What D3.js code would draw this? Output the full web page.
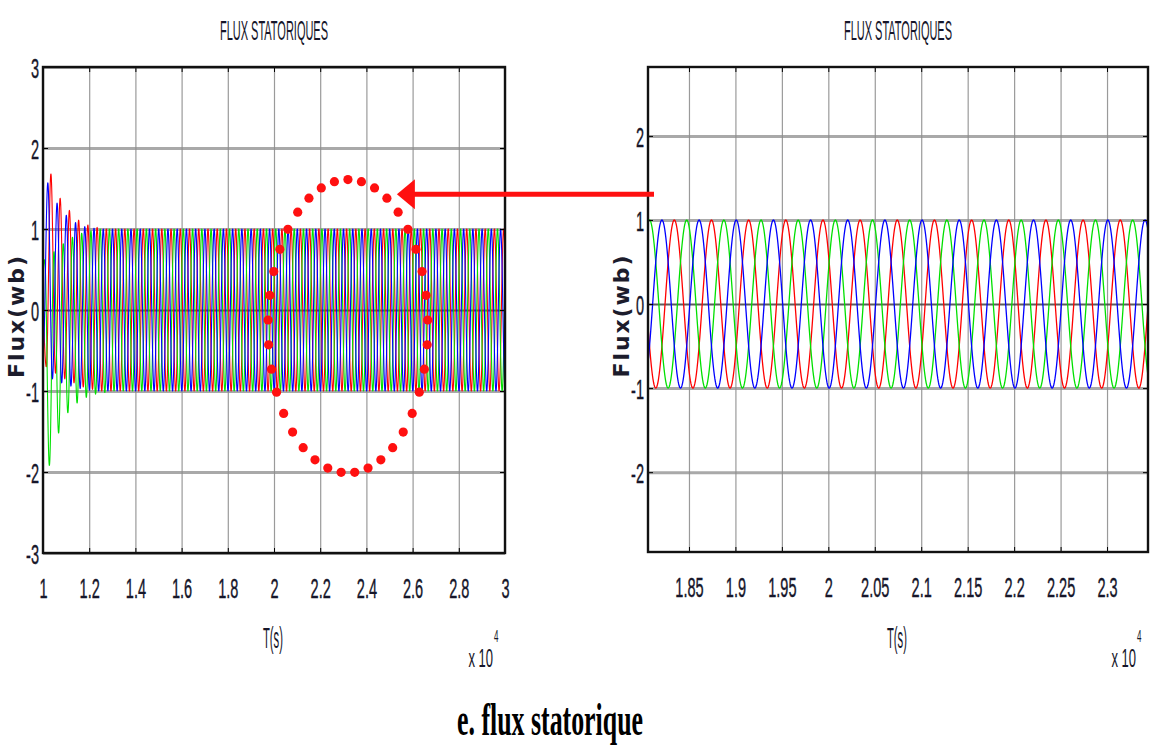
<!DOCTYPE html>
<html lang="fr">
<head>
<meta charset="UTF-8">
<title>Flux statoriques</title>
<style>
  body { margin: 0; background: #fff; }
  svg { display: block; background: #fff; }
  .tick text { font-family: "Liberation Sans Narrow", "Arial Narrow", "Liberation Sans", sans-serif; fill: #16162a; }
  .narrow { font-family: "Liberation Sans Narrow", "Arial Narrow", "Liberation Sans", sans-serif; fill: #16162a; }
</style>
</head>
<body>
<svg id="chart"></svg>
<script src="https://cdnjs.cloudflare.com/ajax/libs/d3/7.8.5/d3.min.js"></script>
<script>
// ---- values (time in units of 10^4 s) ----
var leftTimeTicks = [1, 1.2, 1.4, 1.6, 1.8, 2, 2.2, 2.4, 2.6, 2.8, 3];
var leftTimeLabels = ["1", "1.2", "1.4", "1.6", "1.8", "2", "2.2", "2.4", "2.6", "2.8", "3"];
var rightTimeTicks = [1.85, 1.9, 1.95, 2, 2.05, 2.1, 2.15, 2.2, 2.25, 2.3];
var rightTimeLabels = ["1.85", "1.9", "1.95", "2", "2.05", "2.1", "2.15", "2.2", "2.25", "2.3"];
var leftFluxTicks = [3, 2, 1, 0, -1, -2, -3];
var rightFluxTicks = [2, 1, 0, -1, -2];
var leftTimeRange = [1, 3];
var rightTimeRange = [1.8059, 2.3441];
var leftFluxRange = [-3, 3];
var rightFluxRange = [-2.95, 2.82];

var period = 0.04;          // one electrical period
var bluePeakAt = 1.8209;    // a blue crest seen in the zoomed plot
var steadyAmplitude = 1.0;

// crest / trough heights of each cycle during the start-up transient
var redPeaks = [0.2, 1.68, 1.38, 1.23, 1.11, 1.05, 1.02];
var redTroughs = [-0.7, -0.78, -0.85, -0.9, -0.95, -0.98, -1.0];
var bluePeaks = [0.3, 1.57, 1.32, 1.17, 1.08, 1.03, 1.01];
var blueTroughs = [-0.5, -0.85, -0.9, -0.94, -0.97, -0.99, -1.0];
var greenPeaks = [0.3, 0.62, 0.72, 0.82, 0.9, 0.95, 0.98];
var greenTroughs = [0.0, -1.92, -1.52, -1.27, -1.15, -1.08, -1.04, -1.02];

var series = [
  { name: "a", color: "#ff0000", shift: period / 3, peaks: redPeaks, troughs: redTroughs },
  { name: "b", color: "#00e000", shift: -period / 3, peaks: greenPeaks, troughs: greenTroughs },
  { name: "c", color: "#0000ff", shift: 0, peaks: bluePeaks, troughs: blueTroughs }
];

var width = 1152, height = 749;
var svg = d3.select("#chart").attr("width", width).attr("height", height);

var panels = [
  { box: { left: 43, right: 505, top: 67, bottom: 553 }, xDom: leftTimeRange, yDom: leftFluxRange,
    xTicks: leftTimeTicks, xLabels: leftTimeLabels, yTicks: leftFluxTicks, lw: 1.1, step: 0.0008 },
  { box: { left: 648, right: 1148, top: 67, bottom: 552 }, xDom: rightTimeRange, yDom: rightFluxRange,
    xTicks: rightTimeTicks, xLabels: rightTimeLabels, yTicks: rightFluxTicks, lw: 1.3, step: 0.0006 }
];

function level(arr, k, fallback) {
  if (k < 0) k = 0;
  return k < arr.length ? arr[k] : fallback;
}

function flux(s, t) {
  var first = bluePeakAt + s.shift;
  first = first - Math.ceil((first - leftTimeRange[0]) / period) * period;
  var ph = (t - first) / period;
  var k = Math.floor(ph), f = ph - k;
  var a = level(s.peaks, k, steadyAmplitude);
  var b = level(s.troughs, k, -steadyAmplitude);
  if (f < 0.5) return (a + b) / 2 + (a - b) / 2 * Math.cos(2 * Math.PI * f);
  var c = level(s.peaks, k + 1, steadyAmplitude);
  return (b + c) / 2 + (c - b) / 2 * Math.cos(2 * Math.PI * f);
}

panels.forEach(function(p, pi) {
  var b = p.box, w = b.right - b.left, h = b.bottom - b.top;
  var x = d3.scaleLinear().domain(p.xDom).range([b.left, b.right]);
  var y = d3.scaleLinear().domain(p.yDom).range([b.bottom, b.top]);
  p.x = x; p.y = y;

  var clipId = "clip" + pi;
  svg.append("clipPath").attr("id", clipId).append("rect")
    .attr("x", b.left).attr("y", b.top).attr("width", w).attr("height", h);

  // vertical grid
  svg.append("g").attr("transform", "translate(0," + b.bottom + ")")
    .call(d3.axisBottom(x).tickValues(p.xTicks).tickSize(h).tickFormat(""))
    .call(function(g) {
      g.select(".domain").remove();
      g.selectAll(".tick line").attr("y2", -h).attr("stroke", "#9a9a9a").attr("stroke-width", 1.2);
    });

  // horizontal grid
  svg.append("g").attr("transform", "translate(" + b.left + ",0)")
    .call(d3.axisRight(y).tickValues(p.yTicks).tickSize(w).tickFormat(""))
    .call(function(g) {
      g.select(".domain").remove();
      g.selectAll(".tick line")
        .attr("stroke", function(d) { return d === 0 ? "#4a4a4a" : "#8c8c8c"; })
        .attr("stroke-width", function(d) { return d === 0 ? 2 : 3; })
        .attr("stroke-opacity", function(d) { return d === 0 ? 0.9 : 0.75; });
    });

  // waveforms
  var times = d3.range(p.xDom[0], p.xDom[1] + p.step, p.step);
  var line = d3.line().x(function(d) { return x(d[0]); }).y(function(d) { return y(d[1]); });
  var gl = svg.append("g").attr("clip-path", "url(#" + clipId + ")");
  series.forEach(function(s) {
    var pts = times.map(function(t) { return [t, flux(s, t)]; });
    gl.append("path").datum(pts)
      .attr("d", line)
      .attr("fill", "none")
      .attr("stroke", s.color)
      .attr("stroke-width", p.lw)
      .attr("stroke-linejoin", "round");
  });

  // inner tick marks on all four sides
  svg.append("g").attr("transform", "translate(0," + b.bottom + ")")
    .call(d3.axisTop(x).tickValues(p.xTicks).tickSize(5).tickFormat(""))
    .call(function(g) { g.select(".domain").remove(); g.selectAll("line").attr("stroke", "#000"); });
  svg.append("g").attr("transform", "translate(0," + b.top + ")")
    .call(d3.axisBottom(x).tickValues(p.xTicks).tickSize(5).tickFormat(""))
    .call(function(g) { g.select(".domain").remove(); g.selectAll("line").attr("stroke", "#000"); });
  svg.append("g").attr("transform", "translate(" + b.left + ",0)")
    .call(d3.axisRight(y).tickValues(p.yTicks).tickSize(5).tickFormat(""))
    .call(function(g) { g.select(".domain").remove(); g.selectAll("line").attr("stroke", "#000"); });
  svg.append("g").attr("transform", "translate(" + b.right + ",0)")
    .call(d3.axisLeft(y).tickValues(p.yTicks).tickSize(5).tickFormat(""))
    .call(function(g) { g.select(".domain").remove(); g.selectAll("line").attr("stroke", "#000"); });

  // frame
  svg.append("rect").attr("x", b.left).attr("y", b.top).attr("width", w).attr("height", h)
    .attr("fill", "none").attr("stroke", "#111").attr("stroke-width", 2.4);

  // x tick labels
  svg.append("g").attr("transform", "translate(0," + b.bottom + ")")
    .call(d3.axisBottom(x).tickValues(p.xTicks).tickSize(0)
      .tickFormat(function(d, i) { return p.xLabels[i]; }))
    .call(function(g) {
      g.select(".domain").remove();
      g.selectAll(".tick text").attr("y", 45).attr("dy", 0)
        .attr("font-size", 28).attr("stroke", "#16162a").attr("stroke-width", 0.4)
        .attr("transform", "scale(0.52,1)");
    });

  // y tick labels
  svg.append("g").attr("transform", "translate(" + b.left + ",0)")
    .call(d3.axisLeft(y).tickValues(p.yTicks).tickSize(0).tickFormat(function(d) { return String(d); }))
    .call(function(g) {
      g.select(".domain").remove();
      g.selectAll(".tick text").attr("x", -4 / 0.52).attr("dy", "0.36em")
        .attr("font-size", 28).attr("stroke", "#16162a").attr("stroke-width", 0.4)
        .attr("transform", "scale(0.52,1)");
    });

  var cx = (b.left + b.right) / 2;
  // title
  svg.append("text").attr("class", "narrow")
    .attr("x", cx).attr("y", 40).attr("text-anchor", "middle")
    .attr("font-size", 28).attr("textLength", 108).attr("lengthAdjust", "spacingAndGlyphs")
    .text("FLUX STATORIQUES");
  // x label
  svg.append("text").attr("class", "narrow")
    .attr("x", cx - 1).attr("y", 648).attr("text-anchor", "middle")
    .attr("font-size", 30).attr("textLength", 20).attr("lengthAdjust", "spacingAndGlyphs")
    .text("T(s)");
  // exponent (narrowed with a horizontal scale)
  var ex = svg.append("g").attr("transform", "translate(" + (b.right - 12) + ",0) scale(0.5,1)");
  ex.append("text").attr("class", "narrow")
    .attr("x", 0).attr("y", 667).attr("text-anchor", "end")
    .attr("font-size", 26)
    .text("x 10");
  ex.append("text").attr("class", "narrow")
    .attr("x", 2).attr("y", 642).attr("text-anchor", "start")
    .attr("font-size", 16)
    .text("4");
  // y label
  var ly = (b.top + b.bottom) / 2 + 7;
  svg.append("text")
    .attr("transform", "translate(" + (b.left - 19) + "," + ly + ") rotate(-90)")
    .attr("text-anchor", "middle")
    .attr("font-family", "DejaVu Sans, sans-serif").attr("font-weight", "bold")
    .attr("font-size", 22).attr("fill", "#1c1c2c")
    .attr("textLength", 122).attr("lengthAdjust", "spacing")
    .text("Flux(wb)");
});

// dotted ellipse around the zoomed window, and the arrow from the zoom
var px = panels[0].x, py = panels[0].y;
var ringCenter = [2.32, -0.2], ringRadius = [0.346, 1.81], ringDots = 37;
var rcx = px(ringCenter[0]), rcy = py(ringCenter[1]);
var rrx = px(ringCenter[0] + ringRadius[0]) - rcx, rry = rcy - py(ringCenter[1] + ringRadius[1]);
svg.append("g").selectAll("circle")
  .data(d3.range(ringDots))
  .enter().append("circle")
  .attr("cx", function(i) { return rcx + rrx * Math.sin(2 * Math.PI * i / ringDots); })
  .attr("cy", function(i) { return rcy - rry * Math.cos(2 * Math.PI * i / ringDots); })
  .attr("r", 4.6)
  .attr("fill", "#ff1010");

var arrowY = py(1.43);
var arrowTip = px(2.532);
var arrowTail = panels[1].box.left + 6;
svg.append("line")
  .attr("x1", arrowTail).attr("y1", arrowY).attr("x2", arrowTip + 14).attr("y2", arrowY)
  .attr("stroke", "#ff1010").attr("stroke-width", 5);
svg.append("path")
  .attr("d", "M" + arrowTip + "," + arrowY + "L" + (arrowTip + 18) + "," + (arrowY - 15) +
             "L" + (arrowTip + 18) + "," + (arrowY + 15) + "Z")
  .attr("fill", "#ff1010");

// caption
svg.append("text")
  .attr("x", 457).attr("y", 735)
  .attr("font-family", "Liberation Serif, Times New Roman, serif").attr("font-weight", "bold")
  .attr("font-size", 46).attr("fill", "#000")
  .attr("textLength", 186).attr("lengthAdjust", "spacingAndGlyphs")
  .text("e. flux statorique");
</script>
</body>
</html>
